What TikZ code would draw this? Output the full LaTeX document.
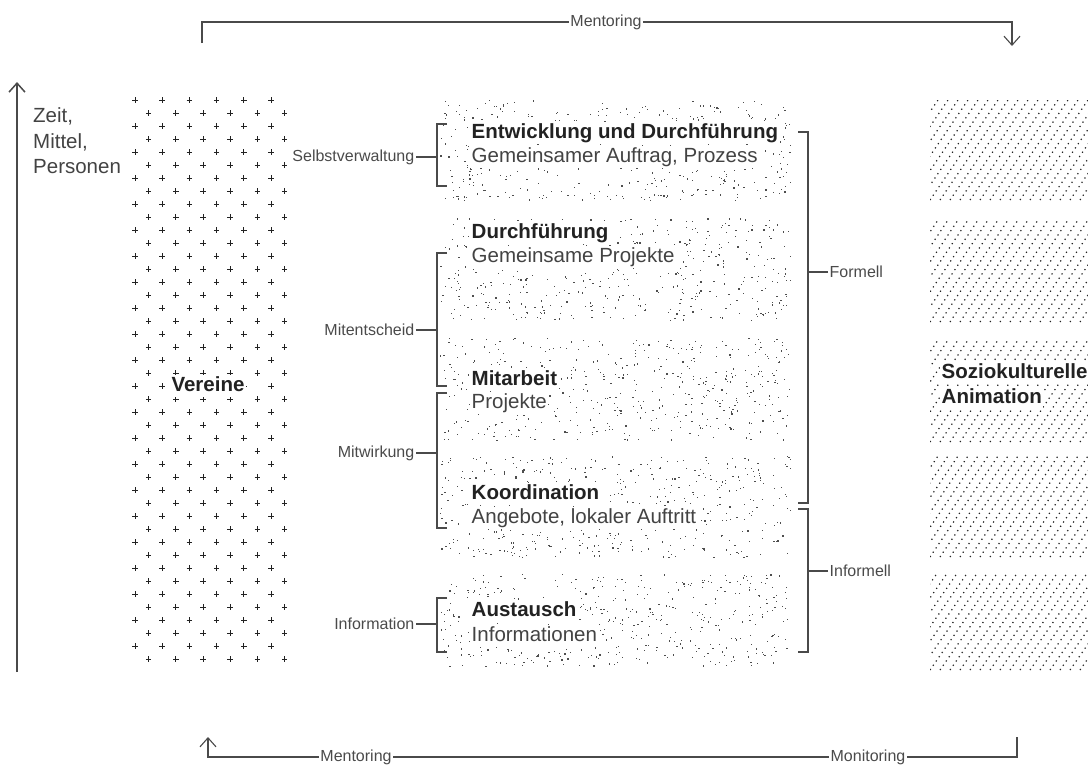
\documentclass[tikz,border=0pt]{standalone}
\usepackage{fontspec}
\setmainfont{Liberation Sans}
\usetikzlibrary{arrows.meta}

\definecolor{tinte}{HTML}{222222}
\definecolor{strich}{HTML}{4A4A4A}

\def \kreuzArm {2.8}

\tikzset{
  >={Straight Barb[length=9pt,width=16pt]},
  linie/.style={draw=strich, line width=1.1pt},
  klammer/.style={draw=strich, line width=1.3pt},
  kreuz/.style={draw=tinte, line width=0.9pt},
  punkt/.style={fill=tinte!80},
  schraffur/.style={draw=tinte, line width=1.2pt, dash pattern=on 1.2pt off 4pt},
  titel/.style={font=\fontsize{20.5}{24}\selectfont\bfseries, text=tinte, fill=white,
    inner sep=1.5pt, text height=15pt, text depth=4.5pt, anchor=west},
  zeile/.style={font=\fontsize{20.5}{24}\selectfont, text=tinte!85, fill=white,
    inner sep=1.5pt, text height=15pt, text depth=4.5pt, anchor=west},
  marke/.style={font=\fontsize{16}{19}\selectfont, text=strich, inner sep=1.5pt},
}

\begin{document}
\begin{tikzpicture}[x=1pt, y=-1pt]
  \useasboundingbox (0,0) rectangle (1088,769);

  \foreach \r in {0,...,43} {
    \pgfmathsetmacro{\yy}{100+13*\r}
    \pgfmathsetmacro{\xo}{135+13.6*mod(\r,2)}
    \foreach \k in {0,...,5}
      \draw[kreuz] ({\xo+27.2*\k-\kreuzArm},{\yy}) -- ++({2*\kreuzArm},0)
                   ({\xo+27.2*\k},{\yy-\kreuzArm}) -- ++(0,{2*\kreuzArm});
  }

  \pgfmathsetseed{42}
  \foreach \yo/\hh in {100/100, 218/102, 338/102, 456/101, 574/92}
    \foreach \i in {1,...,480}
      \fill[punkt] ({440+350*rnd},{\yo+\hh*rnd}) rectangle ++(1.2,1.2);

  \foreach \yo/\hh in {100/100, 220/102, 340/102, 456/101, 572/98} {
    \begin{scope}
      \clip (930,\yo) rectangle (1088,\yo+\hh);
      \foreach \k in {-8,...,16}
        \draw[schraffur] ({930+10*\k},{\yo+\hh}) -- ++(68,-\hh);
    \end{scope}
  }

  \coordinate (zeit-u) at (17,672);
  \coordinate (zeit-o) at (17,82);
  \draw[linie, line width=1.5pt, ->] (zeit-u) -- (zeit-o);
  \node[font=\fontsize{20.5}{25.5}\selectfont, text=tinte!85, align=left, anchor=west, inner sep=0pt]
    (zmp) at (33,141) {Zeit,\\Mittel,\\Personen};

  \node[titel, anchor=center] (vereine) at (208,386) {Vereine};

  \node[titel] (entw) at (470,133) {Entwicklung und Durchführung};
  \node[zeile] (auftrag) at (470,157) {Gemeinsamer Auftrag, Prozess};
  \node[titel] (durch) at (470,233) {Durchführung};
  \node[zeile] (gproj) at (470,257) {Gemeinsame Projekte};
  \node[titel] (mitarb) at (470,380) {Mitarbeit};
  \node[zeile] (proj) at (470,403) {Projekte};
  \node[titel] (koord) at (470,494) {Koordination};
  \node[zeile] (angeb) at (470,518) {Angebote, lokaler Auftritt};
  \node[titel] (aust) at (470,611) {Austausch};
  \node[zeile] (infos) at (470,636) {Informationen};

  \node[titel] (sozio) at (940,373) {Soziokulturelle};
  \node[titel] (anim) at (940,398) {Animation};

  \node[marke, anchor=east] (selbst) at (416,157) {Selbstverwaltung};
  \node[marke, anchor=east] (mitent) at (416,330) {Mitentscheid};
  \node[marke, anchor=east] (mitwirk) at (416,453) {Mitwirkung};
  \node[marke, anchor=east] (inform) at (416,624) {Information};
  \node[marke, anchor=west] (formell) at (828,272) {Formell};
  \node[marke, anchor=west] (informell) at (828,571) {Informell};

  \coordinate (sv-o) at (437,124);
  \coordinate (sv-u) at (437,186);
  \coordinate (me-o) at (437,253);
  \coordinate (me-u) at (437,386);
  \coordinate (mw-o) at (437,393);
  \coordinate (mw-u) at (437,528);
  \coordinate (in-o) at (437,598);
  \coordinate (in-u) at (437,652);
  \coordinate (fo-o) at (808,132);
  \coordinate (fo-u) at (808,503);
  \coordinate (if-o) at (808,509);
  \coordinate (if-u) at (808,652);

  \foreach \a/\b in {sv-o/sv-u, me-o/me-u, mw-o/mw-u, in-o/in-u}
    \draw[klammer] ([xshift=10pt]\a) -- (\a) -- (\b) -- ([xshift=10pt]\b);
  \foreach \a/\b in {fo-o/fo-u, if-o/if-u}
    \draw[klammer] ([xshift=-10pt]\a) -- (\a) -- (\b) -- ([xshift=-10pt]\b);

  \draw[klammer] (selbst.east) -- (selbst.east -| sv-o);
  \draw[klammer] (mitent.east) -- (mitent.east -| me-o);
  \draw[klammer] (mitwirk.east) -- (mitwirk.east -| mw-o);
  \draw[klammer] (inform.east) -- (inform.east -| in-o);
  \draw[klammer] (formell.west) -- (formell.west -| fo-o);
  \draw[klammer] (informell.west) -- (informell.west -| if-o);

  \node[marke] (mentor-oben) at (606,22) {Mentoring};
  \coordinate (mo-a) at (202,43);
  \coordinate (mo-b) at (1012,46);
  \draw[linie] (mo-a) |- (mentor-oben);
  \draw[linie, ->] (mentor-oben) -| (mo-b);

  \node[marke] (mentor-unten) at (356,757) {Mentoring};
  \node[marke] (monitor) at (868,757) {Monitoring};
  \coordinate (mu-a) at (208,737);
  \coordinate (mu-b) at (1017,737);
  \draw[linie, <-] (mu-a) |- (mentor-unten);
  \draw[linie] (mentor-unten) -- (monitor);
  \draw[linie] (monitor) -| (mu-b);
\end{tikzpicture}
\end{document}
